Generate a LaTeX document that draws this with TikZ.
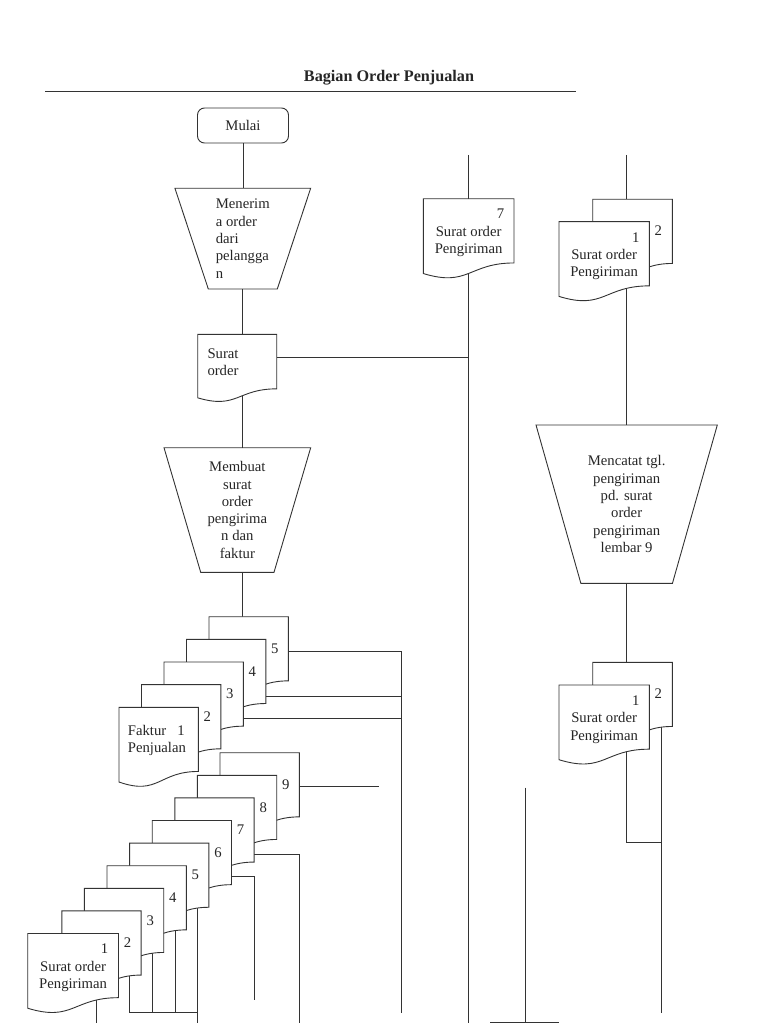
\documentclass[tikz,border=0pt]{standalone}
\usepackage{fontspec}
\setmainfont{Liberation Serif}
\usetikzlibrary{calc,backgrounds}
\newdimen\fdL \newdimen\fdR \newdimen\fdM \newdimen\fdT \newdimen\fdH
\newdimen\fdA \newdimen\fdB \newdimen\fdC
\makeatletter
\pgfdeclareshape{flowdoc}{%
  \inheritsavedanchors[from=rectangle]%
  \inheritanchorborder[from=rectangle]%
  \inheritanchor[from=rectangle]{center}%
  \inheritanchor[from=rectangle]{north}%
  \inheritanchor[from=rectangle]{south}%
  \inheritanchor[from=rectangle]{east}%
  \inheritanchor[from=rectangle]{west}%
  \inheritanchor[from=rectangle]{north east}%
  \inheritanchor[from=rectangle]{north west}%
  \inheritanchor[from=rectangle]{south east}%
  \inheritanchor[from=rectangle]{south west}%
  \inheritanchor[from=rectangle]{mid}%
  \inheritanchor[from=rectangle]{base}%
  \backgroundpath{%
    \southwest \fdL=\pgf@x \fdH=\pgf@y
    \northeast \fdR=\pgf@x \fdT=\pgf@y
    \advance\fdH by -\fdT \fdH=-\fdH
    \fdM=\fdL \advance\fdM by \fdR \divide\fdM by 2
    \fdA=\fdT \advance\fdA by -0.802\fdH
    \fdB=\fdT \advance\fdB by -1.1075\fdH
    \fdC=\fdT \advance\fdC by -0.934\fdH
    \pgfpathmoveto{\pgfqpoint{\fdL}{\fdT}}%
    \pgfpathlineto{\pgfqpoint{\fdR}{\fdT}}%
    \pgfpathlineto{\pgfqpoint{\fdR}{\fdA}}%
    \pgfpathcurveto{\pgfqpoint{\fdM}{\fdA}}{\pgfqpoint{\fdM}{\fdB}}{\pgfqpoint{\fdL}{\fdC}}%
    \pgfpathclose
  }%
}
\makeatother
\tikzset{
  ln/.style={draw=black!80, line width=0.9pt},
  docbox/.style={shape=flowdoc, draw=black!80, line width=0.9pt, fill=white,
    inner sep=0pt, outer sep=0pt, align=center, minimum width=79.3pt, minimum height=80pt},
  frontdoc/.style={docbox, minimum width=90.7pt},
  trapbox/.style={inner sep=0pt, outer sep=0pt, draw=none},
  num/.style={inner sep=0pt},
  txt/.style={inner sep=0pt, align=left},
}
\newcommand\trapout[2]{\draw[ln] (#1.north west) -- (#1.north east) -- ([xshift=-#2]#1.south east) -- ([xshift=#2]#1.south west) -- cycle;}
\newcommand\dstrut{\rule{0pt}{16pt}}
\begin{document}
\begin{tikzpicture}[x=1pt, y=-1pt, font=\fontsize{14.7}{17.3}\selectfont, text=black!85]
\useasboundingbox (0,0) rectangle (768,1024);
% title
\node[inner sep=0pt, font=\fontsize{16.2}{19}\selectfont\bfseries] (title) at (389,78) {Bagian Order Penjualan};
\coordinate (ruleL) at (45,91);
\coordinate (ruleR) at (576,91);
\draw[ln] (ruleL) -- (ruleR);

% main column
\node[draw=black!80, line width=0.9pt, rounded corners=7pt, minimum width=91pt, minimum height=35pt, inner sep=0pt, outer sep=0pt] (mulai) at (243,125.5) {Mulai};
\node[trapbox, align=left, minimum width=135.7pt, minimum height=100.7pt] (t1) at (242.8,238.65) {Menerim\\a order\\dari\\pelangga\\n};
\trapout{t1}{33.35pt}
\node[docbox, minimum width=79pt, minimum height=68pt] (so) at (237.2,368.3) {};
\node[txt, anchor=west] (sot) at (207.3,362.2) {Surat\\order};
\node[trapbox, align=center, minimum width=146.7pt, minimum height=124.6pt] (t2) at (237.35,510) {Membuat\\surat\\order\\pengirima\\n dan\\faktur};
\trapout{t2}{36.7pt}

% middle document
\node[frontdoc] (d7) at (468.65,238.8) {\dstrut Surat order\\Pengiriman};
\node[num] (d7n) at ([xshift=-13.5pt,yshift=-15pt]d7.north east) {7};

% right column
\node[docbox, minimum width=79.6pt] (ra2) at (632.5,239.3) {};
\node[num] (ra2n) at ([xshift=-14pt,yshift=-31.5pt]ra2.north east) {2};
\node[docbox, minimum width=90.3pt] (ra1) at (604.15,261.7) {\dstrut Surat order\\Pengiriman};
\node[num] (ra1n) at ([xshift=-13.5pt,yshift=-15.5pt]ra1.north east) {1};
\node[trapbox, align=center, minimum width=181.3pt, minimum height=158.3pt] (t3) at (626.65,504.15) {Mencatat tgl.\\pengiriman\\pd. surat\\order\\pengiriman\\lembar 9};
\trapout{t3}{44.85pt}
\node[docbox, minimum width=79.6pt] (rb2) at (632.5,702.3) {};
\node[num] (rb2n) at ([xshift=-14pt,yshift=-31.5pt]rb2.north east) {2};
\node[docbox, minimum width=90.3pt] (rb1) at (604.15,725) {\dstrut Surat order\\Pengiriman};
\node[num] (rb1n) at ([xshift=-13.5pt,yshift=-15.5pt]rb1.north east) {1};

% faktur stack
\node[docbox] (f5) at (248.65,656.7) {};
\node[num] (f5n) at ([xshift=-13.5pt,yshift=-32pt]f5.north east) {5};
\node[docbox] (f4) at (226.15,679.35) {};
\node[num] (f4n) at ([xshift=-13.5pt,yshift=-32pt]f4.north east) {4};
\node[docbox] (f3) at (203.65,702.0) {};
\node[num] (f3n) at ([xshift=-13.5pt,yshift=-32pt]f3.north east) {3};
\node[docbox] (f2) at (181.15,724.65) {};
\node[num] (f2n) at ([xshift=-13.5pt,yshift=-32pt]f2.north east) {2};
\node[docbox] (f1) at (158.65,747.3) {};
\node[txt, anchor=west] (f1t) at (127.7,740.5) {Faktur\hspace{11pt}1\\Penjualan};

% surat order pengiriman stack
\node[docbox] (s9) at (259.65,792.7) {};
\node[num] (s9n) at ([xshift=-13.5pt,yshift=-32pt]s9.north east) {9};
\node[docbox] (s8) at (237.05,815.3) {};
\node[num] (s8n) at ([xshift=-13.5pt,yshift=-32pt]s8.north east) {8};
\node[docbox] (s7) at (214.45,837.9) {};
\node[num] (s7n) at ([xshift=-13.5pt,yshift=-32pt]s7.north east) {7};
\node[docbox] (s6) at (191.85,860.5) {};
\node[num] (s6n) at ([xshift=-13.5pt,yshift=-32pt]s6.north east) {6};
\node[docbox] (s5) at (169.25,883.1) {};
\node[num] (s5n) at ([xshift=-13.5pt,yshift=-32pt]s5.north east) {5};
\node[docbox] (s4) at (146.65,905.7) {};
\node[num] (s4n) at ([xshift=-13.5pt,yshift=-32pt]s4.north east) {4};
\node[docbox] (s3) at (124.05,928.3) {};
\node[num] (s3n) at ([xshift=-13.5pt,yshift=-32pt]s3.north east) {3};
\node[docbox] (s2) at (101.45,950.9) {};
\node[num] (s2n) at ([xshift=-13.5pt,yshift=-32pt]s2.north east) {2};
\node[docbox, minimum width=90.8pt] (s1) at (73.1,973.5) {\dstrut Surat order\\Pengiriman};
\node[num] (s1n) at ([xshift=-14pt,yshift=-15pt]s1.north east) {1};

% free ends and junctions
\coordinate (c7top) at (468.3,155);
\coordinate (c7bot) at (468.3,1023);
\coordinate (jSO) at (468.3,357.7);
\coordinate (cRtop) at (626.7,155);
\coordinate (jRL) at (626.7,842.7);
\coordinate (jR) at (661,842.7);
\coordinate (cRend) at (661,1012.7);
\coordinate (jF) at (401,651);
\coordinate (jF4) at (401,696.7);
\coordinate (jF3) at (401,718.3);
\coordinate (cFbot) at (401,1012.7);
\coordinate (c9end) at (379,786.7);
\coordinate (j7) at (299.3,854.3);
\coordinate (c7end) at (299.3,1023);
\coordinate (j6) at (254.3,876);
\coordinate (c6end) at (254.3,1000);
\coordinate (b2) at (129.7,1012.7);
\coordinate (b3) at (152.3,1012.7);
\coordinate (b4) at (175,1012.7);
\coordinate (b5) at (197.3,1012.7);
\coordinate (c5end) at (197.3,1023);
\coordinate (c1end) at (96,1023);
\coordinate (stTop) at (525.7,787.7);
\coordinate (stBot) at (525.7,1022.5);
\coordinate (stL) at (490,1022.5);
\coordinate (stR) at (559,1022.5);

\begin{pgfonlayer}{background}
\draw[ln] (mulai.south) -- (mulai.south |- t1.north);
\draw[ln] (t1.south) -- (t1.south |- so.north);
\draw[ln] (so.center -| t1.south) -- (t1.south |- t2.north);
\draw[ln] (so.east |- jSO) -- (jSO);
\draw[ln] (t1.south |- t2.south) -- (t1.south |- f5.north);
\draw[ln] (c7top) -- (c7top |- d7.north);
\draw[ln] (c7top |- d7.center) -- (c7bot);
\draw[ln] (cRtop) -- (cRtop |- ra2.north);
\draw[ln] (cRtop |- ra1.center) -- (cRtop |- t3.north);
\draw[ln] (t3.south) -- (t3.south |- rb2.north);
\draw[ln] (jRL |- rb1.center) -- (jRL) -- (jR);
\draw[ln] (jR |- rb2.center) -- (cRend);
\draw[ln] (f5.east |- jF) -- (jF) -- (cFbot);
\draw[ln] (f4.east |- jF4) -- (jF4);
\draw[ln] (f3.east |- jF3) -- (jF3);
\draw[ln] (s9.east |- c9end) -- (c9end);
\draw[ln] (s7.east |- j7) -- (j7) -- (c7end);
\draw[ln] (s6.east |- j6) -- (j6) -- (c6end);
\draw[ln] (c5end |- s5.center) -- (c5end);
\draw[ln] (b4 |- s4.center) -- (b4);
\draw[ln] (b3 |- s3.center) -- (b3);
\draw[ln] (b2 |- s2.center) -- (b2) -- (b5);
\draw[ln] (c1end |- s1.center) -- (c1end);
\draw[ln] (stTop) -- (stBot);
\draw[ln] (stL) -- (stR);
\end{pgfonlayer}
\end{tikzpicture}
\end{document}
